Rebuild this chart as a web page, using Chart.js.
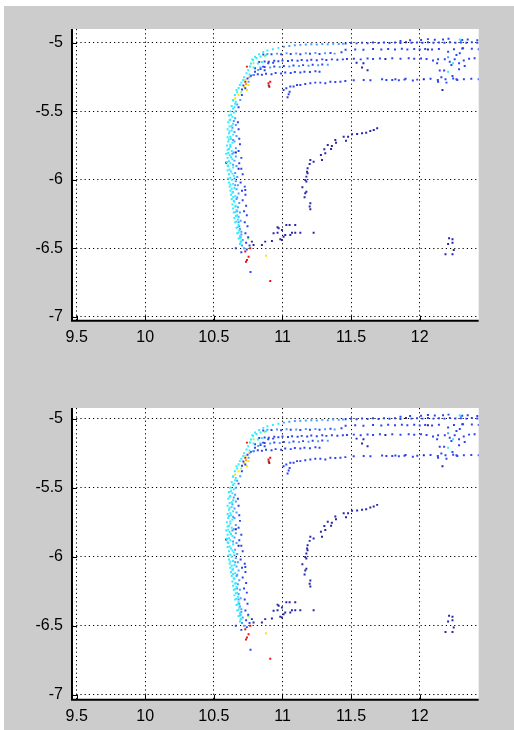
<!DOCTYPE html>
<html><head><meta charset="utf-8">
<script src="https://cdn.jsdelivr.net/npm/chart.js@4.4.1/dist/chart.umd.min.js"></script>
<style>
html,body{margin:0;padding:0;width:514px;height:730px;overflow:hidden;background:#fff;}
#bg{position:absolute;left:4px;top:6px;width:510px;height:724px;background:#cccccc;}
canvas{position:absolute;left:0;}
#c1{top:0px}
#c2{top:379px}
</style></head><body>
<div id="bg"></div>
<canvas id="c1" width="514" height="351"></canvas>
<canvas id="c2" width="514" height="351"></canvas>
<script>
// ---- tick values / labels ----
const xTicks = [9.5, 10, 10.5, 11, 11.5, 12];
const xTickLabels = ['9.5', '10', '10.5', '11', '11.5', '12'];
const yTicks = [-7, -6.5, -6, -5.5, -5];
const yTickLabels = ['-7', '-6.5', '-6', '-5.5', '-5'];
const xRange = [9.466, 12.43];
const yRangeTop = [-7.03, -4.898];
const yRangeBottom = [-7.036, -4.922];

// ---- data points [x, y] by colour group ----
const navyPts = [
 [11.69,-5.624],[11.665,-5.636],[11.64,-5.643],[11.61,-5.656],[11.58,-5.66],[11.544,-5.665],[11.507,-5.667],
 [11.478,-5.685],[11.446,-5.685],[11.463,-5.714],[11.385,-5.709],[11.39,-5.729],[11.36,-5.753],[11.33,-5.746],
 [11.354,-5.775],[11.305,-5.777],[11.312,-5.806],[11.28,-5.819],[11.288,-5.855],[11.227,-5.868],[11.203,-5.855],
 [11.198,-5.885],[11.183,-5.916],[11.179,-5.941],[11.183,-5.953],[11.174,-5.977],[11.166,-6.001],[11.174,-6.013],
 [11.145,-6.054],[11.174,-6.087],[11.166,-6.099],[11.161,-6.128],[11.203,-6.172],[11.198,-6.196],[11.203,-6.216],
 [10.777,-6.452],[10.789,-6.477],[10.85,-6.477],[10.874,-6.452],[10.923,-6.447],[10.935,-6.391],[10.964,-6.387],
 [10.972,-6.355],[10.964,-6.347],[10.996,-6.367],[10.996,-6.44],[11.008,-6.416],[11.02,-6.404],[11.028,-6.33],
 [11.057,-6.404],[11.052,-6.33],[11.069,-6.387],[11.093,-6.33],[11.093,-6.387],[11.13,-6.387],[11.227,-6.387],
 [10.984,-6.435],
 [12.214,-6.428],[12.239,-6.435],[12.207,-6.469],[12.239,-6.46],[12.248,-6.513],[12.188,-6.545],[12.239,-6.545],
 [11.54,-5.144],[11.59,-5.148],[11.58,-5.18],[11.62,-5.2],[10.59,-5.875],[10.66,-5.80],[10.68,-5.92],
 [11.9,-4.995],[12.06,-5.047],[11.75,-5.117],[12.03,-5.265],[12.166,-5.344]
];
const bluePts = [
 // upper line
 [11.46,-5.004],[11.5,-5.0],[11.54,-5.003],[11.58,-4.998],[11.62,-5.002],[11.66,-4.997],[11.70,-5.001],[11.74,-4.996],
 [11.78,-5.0],[11.82,-4.997],[11.86,-5.001],[11.94,-4.999],[11.98,-4.996],[12.02,-4.999],[12.06,-4.995],
 [12.1,-4.999],[12.14,-4.996],[12.18,-4.999],[12.22,-4.995],[12.26,-4.998],[12.3,-4.996],[12.34,-4.999],[12.38,-4.995],
 [12.42,-4.998],[11.86,-4.985],[11.93,-4.98],[12.01,-4.978],[12.06,-4.972],[12.11,-4.976],[12.17,-4.974],[12.21,-4.97],
 [12.31,-4.978],[12.35,-4.975],[12.42,-4.98],
 // second line
 [11.46,-5.05],[11.53,-5.047],[11.59,-5.05],[11.66,-5.045],[11.72,-5.048],[11.77,-5.044],[11.82,-5.047],[11.87,-5.043],
 [11.91,-5.047],[11.96,-5.044],[12.0,-5.048],[12.04,-5.045],[12.09,-5.048],[12.14,-5.044],[12.25,-5.046],[12.31,-5.04],
 [12.38,-5.042],[12.43,-5.046],
 // third line
 [11.47,-5.118],[11.52,-5.115],[11.57,-5.12],[11.62,-5.114],[11.66,-5.118],[11.71,-5.113],[11.8,-5.112],
 [11.86,-5.116],[11.92,-5.112],[11.96,-5.116],[12.01,-5.113],[12.05,-5.117],[12.36,-5.115],[12.4,-5.112],[12.44,-5.114],
 // lower line
 [11.008,-5.344],[11.028,-5.331],[11.052,-5.356],[11.037,-5.397],[11.045,-5.375],[11.057,-5.319],[11.081,-5.319],
 [11.106,-5.307],[11.13,-5.307],[11.166,-5.3],[11.203,-5.295],[11.239,-5.29],[11.276,-5.29],[11.312,-5.295],
 [11.349,-5.283],[11.385,-5.285],[11.422,-5.283],[11.458,-5.278],[11.519,-5.272],[11.592,-5.27],[11.641,-5.272],
 [11.726,-5.266],[11.757,-5.27],[11.8,-5.27],[11.823,-5.266],[11.848,-5.272],[11.889,-5.268],[11.897,-5.262],
 [11.95,-5.275],[11.982,-5.268],[12.079,-5.262],[12.132,-5.27],[12.188,-5.265],[12.244,-5.26],
 [12.274,-5.27],[12.322,-5.265],[12.376,-5.262],[12.43,-5.265],
 // right cluster
 [12.097,-5.129],[12.134,-5.119],[12.127,-5.148],[12.183,-5.119],[12.219,-5.137],[12.231,-5.161],[12.255,-5.119],
 [12.207,-5.064],[12.268,-5.088],[12.292,-5.075],[12.287,-5.148],[12.287,-5.192],[12.146,-5.202],[12.178,-5.202],
 [12.158,-5.251],[12.239,-5.241],[12.268,-5.265],[12.134,-5.283],[12.195,-5.29],[12.328,-5.168],
 [12.321,-5.129],[12.316,-5.039],
 // left tracks
 [10.86,-5.085],[10.92,-5.082],[10.99,-5.083],[11.06,-5.08],[11.13,-5.082],[11.2,-5.079],[11.27,-5.08],[11.35,-5.073],
 [11.43,-5.068],
 [10.83,-5.14],[10.87,-5.135],[10.9,-5.138],[10.94,-5.13],[10.97,-5.134],[11.0,-5.128],[11.04,-5.132],[11.07,-5.126],
 [11.11,-5.13],[11.14,-5.124],[11.18,-5.128],[11.21,-5.122],[11.25,-5.126],[11.29,-5.12],[11.32,-5.124],[11.36,-5.12],
 [11.4,-5.123],[11.44,-5.12],
 [10.8,-5.185],[10.87,-5.176],[10.94,-5.172],[11.01,-5.168],[11.08,-5.165],[11.15,-5.162],[11.22,-5.16],[11.29,-5.158],
 [10.79,-5.235],[10.82,-5.228],[10.85,-5.232],[10.88,-5.225],[10.92,-5.228],[10.95,-5.22],[10.99,-5.224],[11.02,-5.216],
 [11.06,-5.22],[11.09,-5.212],[11.13,-5.216],[11.16,-5.21],[11.2,-5.213],[11.24,-5.207],[11.27,-5.21],
 // curve
 [10.705,-5.34],[10.715,-5.31],[10.745,-5.26],[10.77,-5.24],[10.8,-5.21],[10.84,-5.19],[10.87,-5.2],
 [10.704,-5.38],[10.729,-5.331],[10.859,-5.173],[10.896,-5.148],[10.932,-5.144],
 // band right side
 [10.68,-5.47],[10.675,-5.58],[10.68,-5.63],[10.685,-5.70],[10.69,-5.74],[10.68,-5.79],[10.70,-5.84],[10.685,-5.88],
 [10.70,-5.92],[10.71,-5.96],[10.695,-6.02],[10.725,-6.05],[10.705,-6.08],[10.73,-6.11],[10.71,-6.15],[10.735,-6.19],
 [10.72,-6.23],[10.74,-6.26],[10.725,-6.31],[10.745,-6.34],[10.73,-6.39],[10.75,-6.42],[10.735,-6.46],[10.76,-6.48],
 [10.74,-6.51],[10.66,-6.50],[10.70,-6.53],[10.729,-6.075],[10.767,-6.674]
];
const azurePts = [
 [10.67,-5.45],[10.66,-5.50],[10.655,-5.55],[10.66,-5.60],[10.65,-5.65],[10.665,-5.68],[10.65,-5.72],[10.66,-5.77],
 [10.645,-5.80],[10.66,-5.83],[10.65,-5.86],[10.665,-5.90],[10.655,-5.95],[10.67,-5.98],[10.66,-6.01],[10.675,-6.04],
 [10.665,-6.07],[10.68,-6.10],[10.67,-6.13],[10.685,-6.17],[10.675,-6.20],[10.69,-6.24],[10.68,-6.27],[10.695,-6.30],
 [10.685,-6.34],[10.70,-6.38],[10.695,-6.42],[10.71,-6.44],[10.705,-6.48],[10.72,-6.50],
 [10.645,-5.57],[10.635,-5.62],[10.64,-5.71],[10.635,-5.81],[10.64,-5.89],[10.65,-5.99],[10.655,-6.04],[10.665,-6.14],
 [10.67,-6.23],[10.68,-6.31],[10.69,-6.36],[10.7,-6.40],
 [11.01,-5.028],[11.05,-5.022],[11.09,-5.017],[11.13,-5.014],[11.17,-5.012],[11.21,-5.01],[11.25,-5.012],[11.29,-5.008],
 [11.33,-5.01],[11.37,-5.006],[11.41,-5.008],[11.44,-5.005],
 [10.89,-5.08],[10.96,-5.078],[11.03,-5.076],[11.1,-5.077],[11.17,-5.075],[11.24,-5.074],[11.31,-5.076],[11.38,-5.078],
 [10.84,-5.18],[10.91,-5.18],[10.98,-5.176],[11.05,-5.172],[11.12,-5.168],[11.19,-5.166],[11.26,-5.163],[11.33,-5.16],
 [10.692,-5.417],[10.753,-5.283],[10.789,-5.234],[10.823,-5.197],[12.207,-5.105],[12.3,-4.985]
];
const cyanPts = [
 [10.64,-5.42],[10.66,-5.43],[10.63,-5.46],[10.65,-5.47],[10.62,-5.50],[10.645,-5.51],[10.61,-5.53],[10.635,-5.54],
 [10.62,-5.56],[10.605,-5.58],[10.64,-5.59],[10.615,-5.61],[10.60,-5.63],[10.63,-5.64],[10.61,-5.66],[10.64,-5.67],
 [10.60,-5.69],[10.625,-5.70],[10.605,-5.72],[10.635,-5.73],[10.595,-5.75],[10.62,-5.76],[10.60,-5.78],[10.63,-5.79],
 [10.59,-5.81],[10.615,-5.82],[10.60,-5.84],[10.635,-5.85],[10.595,-5.87],[10.62,-5.88],[10.605,-5.90],[10.64,-5.91],
 [10.60,-5.93],[10.625,-5.94],[10.61,-5.96],[10.645,-5.97],[10.605,-5.99],[10.63,-6.00],[10.61,-6.02],[10.64,-6.03],
 [10.615,-6.05],[10.65,-6.06],[10.62,-6.08],[10.64,-6.09],[10.625,-6.11],[10.655,-6.12],[10.63,-6.14],[10.65,-6.16],
 [10.635,-6.18],[10.66,-6.19],[10.64,-6.21],[10.665,-6.22],[10.645,-6.24],[10.67,-6.26],[10.65,-6.28],[10.675,-6.29],
 [10.655,-6.31],[10.68,-6.33],[10.665,-6.35],[10.685,-6.37],[10.67,-6.39],[10.69,-6.41],[10.68,-6.43],[10.70,-6.45],
 [10.69,-6.47],
 [10.655,-5.445],[10.64,-5.48],[10.625,-5.525],[10.615,-5.565],[10.63,-5.605],[10.615,-5.645],[10.62,-5.685],
 [10.61,-5.705],[10.62,-5.745],[10.61,-5.775],[10.605,-5.805],[10.625,-5.835],[10.61,-5.865],[10.6,-5.895],
 [10.615,-5.925],[10.635,-5.955],[10.62,-5.985],[10.62,-6.035],[10.63,-6.065],[10.635,-6.095],[10.64,-6.125],
 [10.645,-6.155],[10.655,-6.195],[10.655,-6.235],[10.66,-6.265],[10.665,-6.305],[10.675,-6.345],[10.68,-6.385],
 [10.69,-6.425],[10.695,-6.455],
 [10.641,-5.417],[10.653,-5.38],[10.665,-5.344],[10.689,-5.307],[10.714,-5.27],[10.738,-5.222],[10.762,-5.173],
 [10.786,-5.124],[10.67,-5.36],[10.68,-5.33],[10.70,-5.29],[10.72,-5.25],[10.75,-5.2],[10.77,-5.15],[10.81,-5.11],
 [10.84,-5.1],[10.88,-5.09],[10.76,-5.23],[10.79,-5.18],[10.82,-5.15],[10.85,-5.14],
 [10.78,-5.12],[10.80,-5.10],[10.83,-5.082],[10.86,-5.066],[10.89,-5.055],[10.93,-5.046],[10.97,-5.036],
 [12.243,-5.148],[12.207,-5.21],[12.292,-4.975]
];
const greenPts = [[10.789,-5.148],[10.871,-5.095],[10.70,-5.36],[10.75,-6.43]];
const yellowPts = [[10.753,-5.307],[10.741,-5.344],[10.655,-5.404],[10.68,-5.38],[10.72,-5.32],[10.765,-5.17],[10.73,-5.27],[10.88,-6.555]];
const orangePts = [[10.735,-5.3],[10.76,-5.25]];
const redPts = [[10.741,-5.173],[10.729,-5.283],[10.898,-5.295],[10.911,-5.283],[10.753,-6.562],[10.741,-6.586],[10.734,-6.599],[10.765,-6.5],[10.729,-6.525],[10.911,-6.74]];
const darkRedPts = [[10.904,-5.32],[10.9,-5.31]];

// ---- styling ----
const groups = [
  {pts: cyanPts, color: '#30ecff'},
  {pts: azurePts, color: '#4a9dff'},
  {pts: bluePts, color: '#2b44f0'},
  {pts: navyPts, color: '#2626a6'},
  {pts: greenPts, color: '#8cff6e'},
  {pts: yellowPts, color: '#ffe400'},
  {pts: orangePts, color: '#ff9a00'},
  {pts: redPts, color: '#ee1010'},
  {pts: darkRedPts, color: '#a01818'}
];
const FONT = {family: "'Liberation Sans', Arial, sans-serif", size: 16};

const axesPlugin = {
  id: 'matlabAxes',
  beforeDraw(chart) {
    const a = chart.chartArea, ctx = chart.ctx;
    ctx.save();
    ctx.fillStyle = '#ffffff';
    ctx.fillRect(a.left, a.top, a.right - a.left, a.bottom - a.top);
    ctx.restore();
  },
  afterDraw(chart) {
    const a = chart.chartArea, ctx = chart.ctx;
    const xs = chart.scales.x, ys = chart.scales.y;
    ctx.save();
    ctx.strokeStyle = '#000';
    ctx.lineWidth = 1;
    ctx.beginPath();
    xTicks.forEach(v => { const p = Math.round(xs.getPixelForValue(v)) + 0.5; ctx.moveTo(p, a.bottom); ctx.lineTo(p, a.bottom - 5); });
    yTicks.forEach(v => { const p = Math.round(ys.getPixelForValue(v)) + 0.5; ctx.moveTo(a.left, p); ctx.lineTo(a.left + 5, p); });
    ctx.stroke();
    ctx.lineWidth = 2;
    ctx.beginPath();
    ctx.moveTo(a.left, a.top);
    ctx.lineTo(a.left, a.bottom);
    ctx.lineTo(a.right, a.bottom);
    ctx.stroke();
    ctx.restore();
  }
};

function makeChart(id, yRange) {
  return new Chart(document.getElementById(id), {
    type: 'scatter',
    data: {
      datasets: groups.map(g => ({
        data: g.pts.map(p => ({x: p[0], y: p[1]})),
        backgroundColor: g.color,
        borderWidth: 0,
        pointStyle: 'rect',
        pointRadius: 1.4,
        pointHoverRadius: 1.4
      }))
    },
    options: {
      responsive: false,
      animation: false,
      events: [],
      devicePixelRatio: 1,
      layout: {padding: {left: 0, top: 29, right: 35.3, bottom: 4.3}},
      plugins: {legend: {display: false}, tooltip: {enabled: false}},
      scales: {
        x: {
          type: 'linear', min: xRange[0], max: xRange[1],
          afterBuildTicks: s => { s.ticks = xTicks.map(v => ({value: v})); },
          afterFit: s => { s.height = 26; },
          grid: {color: '#000', lineWidth: 1, drawTicks: false},
          border: {display: false, dash: [1.2, 3]},
          ticks: {font: FONT, color: '#000', padding: 7, maxRotation: 0, autoSkip: false,
                  callback: v => xTickLabels[xTicks.indexOf(v)]}
        },
        y: {
          type: 'linear', min: yRange[0], max: yRange[1],
          afterBuildTicks: s => { s.ticks = yTicks.map(v => ({value: v})); },
          afterFit: s => { s.width = 72; },
          grid: {color: '#000', lineWidth: 1, drawTicks: false},
          border: {display: false, dash: [1.2, 3]},
          ticks: {font: FONT, color: '#000', padding: 9, autoSkip: false,
                  callback: v => yTickLabels[yTicks.indexOf(v)]}
        }
      }
    },
    plugins: [axesPlugin]
  });
}
makeChart('c1', yRangeTop);
makeChart('c2', yRangeBottom);
</script>
</body></html>
